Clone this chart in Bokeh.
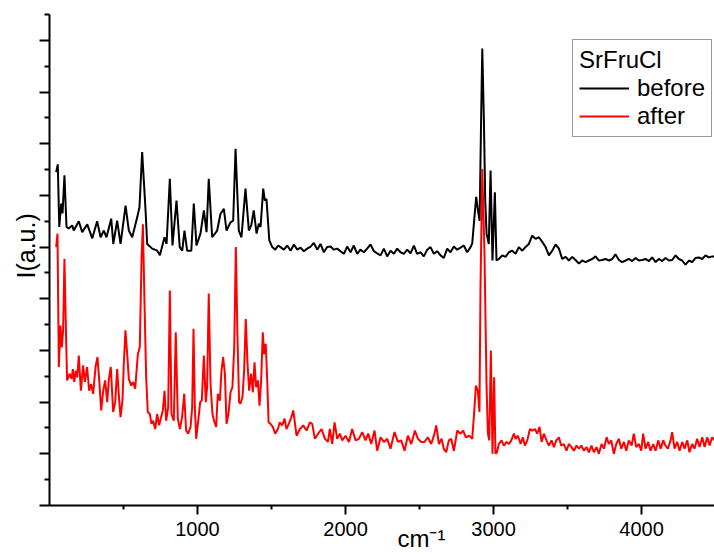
from bokeh.plotting import figure
from bokeh.models import (FixedTicker, CustomJSTickFormatter, Legend,
                          LegendItem, Range1d, Title)
from bokeh.embed import file_html
from bokeh.resources import INLINE

# ---------------- data ----------------
# "before" spectrum (black)
before_x_1 = [45, 56, 66, 79, 88, 101, 115, 130, 153, 164,
              198, 221, 255, 289, 322, 345, 367, 385, 417, 431,
              457, 480, 514, 536, 559, 593, 608, 626, 649, 660,
              694, 728, 746, 777, 791, 813, 831, 858, 880, 897,
              912, 930, 958, 975, 993, 1020, 1043, 1061, 1076, 1099,
              1133, 1155, 1178, 1196, 1223, 1241, 1257, 1279, 1297, 1324,
              1347, 1363, 1380, 1399, 1414, 1426, 1444, 1455, 1466, 1485,
              1505, 1525, 1545]
before_y_1 = [6.45, 6.60, 5.39, 5.84, 5.65, 6.39, 5.39, 5.36, 5.42, 5.32,
              5.50, 5.29, 5.44, 5.17, 5.50, 5.19, 5.32, 5.19, 5.55, 5.06,
              5.51, 5.06, 5.80, 5.32, 5.19, 5.58, 5.77, 6.84, 5.71, 5.06,
              4.97, 4.93, 4.84, 5.19, 5.06, 6.32, 5.03, 5.90, 5.00, 4.93,
              5.32, 4.93, 4.93, 5.84, 5.03, 5.26, 5.71, 5.29, 6.32, 5.19,
              5.32, 5.64, 5.74, 5.32, 5.48, 5.51, 6.90, 5.32, 5.19, 6.13,
              5.32, 5.42, 5.71, 5.26, 5.45, 5.39, 6.13, 5.90, 5.93, 5.13,
              5.00, 4.95, 5.03]
before_x_2 = [1561, 1584, 1606, 1629, 1651, 1674, 1696, 1719, 1741, 1764,
              1786, 1809, 1831, 1854, 1876, 1899, 1921, 1944, 1966, 1989,
              2011, 2034, 2056, 2079, 2101, 2124, 2146, 2169, 2192, 2214,
              2237, 2259, 2282, 2304, 2327, 2349, 2372, 2394, 2417, 2439,
              2462, 2484, 2507, 2529, 2552, 2574, 2597, 2619, 2642, 2664,
              2687, 2709, 2732, 2754, 2777, 2799, 2822, 2845]
before_y_2 = [5.00, 4.95, 5.03, 4.93, 5.05, 4.95, 4.99, 4.92, 4.97, 5.01,
              5.08, 4.95, 5.06, 4.90, 5.00, 5.01, 4.95, 4.97, 4.92, 4.87,
              5.01, 4.90, 5.03, 4.87, 4.95, 4.90, 4.97, 5.05, 4.92, 4.88,
              4.84, 4.97, 4.82, 4.93, 4.87, 4.97, 4.90, 4.87, 4.95, 4.88,
              5.03, 4.87, 4.90, 4.82, 4.95, 5.00, 4.87, 4.92, 4.84, 4.79,
              4.97, 4.90, 5.01, 4.95, 4.99, 5.03, 4.90, 5.00]
before_x_3 = [2856, 2872, 2883, 2895, 2906, 2916, 2924, 2935, 2944, 2953,
              2968, 2980, 2993, 3009, 3020]
before_y_3 = [5.07, 5.61, 5.97, 5.71, 5.51, 7.45, 8.84, 7.45, 5.90, 5.26,
              5.06, 6.48, 4.74, 6.06, 4.74]
before_x_4 = [3036, 3059, 3081, 3104, 3126, 3149, 3171, 3194, 3216, 3239,
              3261, 3284, 3307, 3329, 3352, 3374, 3397, 3419, 3442, 3464,
              3487, 3509, 3532, 3554, 3577, 3599, 3622, 3644, 3667, 3689,
              3712, 3734, 3757, 3779, 3802, 3824, 3847, 3869, 3892, 3914,
              3937, 3960, 3982, 4005, 4027, 4050, 4072, 4095, 4117, 4140,
              4162, 4185, 4207, 4230, 4252, 4275, 4297, 4320, 4342, 4365,
              4387, 4410, 4432, 4455, 4477, 4493]
before_y_4 = [4.77, 4.84, 4.81, 4.90, 4.93, 4.87, 5.00, 4.93, 5.00, 5.06,
              5.22, 5.16, 5.19, 5.10, 5.00, 4.84, 4.93, 5.05, 4.97, 4.77,
              4.81, 4.74, 4.81, 4.75, 4.68, 4.74, 4.71, 4.74, 4.77, 4.82,
              4.74, 4.75, 4.77, 4.74, 4.77, 4.86, 4.75, 4.71, 4.74, 4.77,
              4.73, 4.79, 4.74, 4.75, 4.77, 4.73, 4.80, 4.71, 4.77, 4.73,
              4.79, 4.74, 4.75, 4.84, 4.77, 4.74, 4.66, 4.74, 4.71, 4.79,
              4.80, 4.77, 4.84, 4.80, 4.82, 4.82]

# "after" spectrum (red)
after_x_1 = [45, 54, 63, 74, 83, 92, 101, 113, 119, 137,
             149, 158, 167, 178, 187, 198, 212, 227, 239, 254,
             268, 281, 295, 311, 324, 336, 349, 363, 376, 390,
             401, 414, 430, 444, 457, 471, 480, 493, 502, 513,
             525, 536, 552, 565, 579, 597, 610, 622, 631, 642,
             653, 664, 678, 689, 700, 714, 727, 741, 754, 766,
             777, 788, 802, 813, 824, 840, 853, 867, 881, 896,
             910, 923, 937, 953, 964, 973, 982, 991, 1005, 1018,
             1029, 1043, 1056, 1065, 1076, 1088, 1101, 1112, 1126, 1137,
             1151, 1162, 1173, 1185, 1196, 1209, 1223, 1236, 1248, 1259,
             1270, 1281, 1290, 1304, 1315, 1326, 1338, 1349, 1362, 1374,
             1385, 1396, 1408, 1419, 1430, 1441, 1450, 1461, 1471, 1480,
             1493, 1509, 1525, 1543, 1556, 1572, 1588, 1601, 1617, 1633]
after_y_1 = [5.00, 5.26, 2.68, 3.48, 3.06, 3.39, 4.77, 3.13, 2.42, 2.55,
             2.45, 2.64, 2.39, 2.61, 2.48, 2.90, 2.22, 2.71, 2.39, 2.68,
             2.22, 2.35, 2.16, 2.68, 2.87, 2.42, 1.84, 2.22, 2.42, 2.00,
             2.45, 2.68, 1.81, 2.00, 2.64, 2.03, 1.71, 2.03, 2.74, 3.39,
             2.93, 2.45, 2.32, 2.39, 2.26, 2.93, 3.06, 4.80, 5.44, 3.90,
             2.48, 1.81, 1.77, 1.58, 1.64, 1.48, 1.77, 1.55, 1.71, 1.84,
             2.22, 1.64, 1.90, 4.16, 1.77, 1.64, 3.35, 1.68, 1.48, 1.71,
             2.16, 1.45, 1.39, 1.52, 1.90, 3.42, 1.90, 1.29, 1.64, 2.00,
             2.03, 2.90, 2.00, 2.29, 4.10, 2.35, 1.77, 1.64, 1.52, 2.16,
             2.03, 2.61, 2.87, 2.55, 1.58, 1.77, 2.19, 2.29, 3.06, 5.00,
             3.26, 2.00, 1.97, 2.10, 2.61, 3.61, 2.74, 2.22, 2.55, 2.19,
             2.77, 2.29, 2.42, 1.93, 2.42, 3.35, 2.93, 3.13, 2.42, 1.61,
             1.58, 1.52, 1.39, 1.48, 1.61, 1.55, 1.68, 1.48, 1.58, 1.70]
after_x_2 = [1647, 1669, 1692, 1714, 1737, 1759, 1775, 1793, 1815, 1838,
             1861, 1881, 1894, 1910, 1926, 1944, 1962, 1978, 2000, 2023,
             2045, 2068, 2090, 2113, 2135, 2153, 2174, 2196, 2214, 2237,
             2259, 2282, 2304, 2331, 2354, 2376, 2399, 2421, 2444, 2469,
             2489, 2511, 2534, 2556, 2579, 2601, 2613, 2631, 2649, 2664,
             2680, 2698, 2714, 2732, 2755, 2777, 2795, 2813, 2836, 2856]
after_y_2 = [1.84, 1.35, 1.48, 1.55, 1.45, 1.61, 1.58, 1.29, 1.39, 1.48,
             1.29, 1.23, 1.48, 1.19, 1.61, 1.29, 1.39, 1.26, 1.35, 1.23,
             1.48, 1.26, 1.29, 1.42, 1.26, 1.39, 1.19, 1.45, 1.06, 1.32,
             1.23, 1.29, 1.10, 1.42, 1.23, 1.26, 1.06, 1.35, 1.19, 1.45,
             1.29, 1.23, 1.23, 1.32, 1.19, 1.39, 1.55, 1.19, 1.29, 1.10,
             1.03, 1.26, 1.29, 1.06, 1.45, 1.39, 1.45, 1.32, 1.35, 1.29]
after_x_3 = [2867, 2881, 2894, 2905, 2912, 2924, 2939, 2953, 2962, 2971,
             2982, 2993, 3004, 3013, 3023]
after_y_3 = [1.71, 2.32, 2.22, 1.81, 4.22, 6.51, 4.87, 2.29, 1.39, 1.26,
             3.00, 1.00, 2.48, 1.00, 1.03]
after_x_4 = [3036, 3054, 3070, 3088, 3104, 3120, 3138, 3149, 3165, 3183,
             3198, 3212, 3228, 3246, 3261, 3280, 3295, 3311, 3325, 3340,
             3358, 3374, 3392, 3408, 3424, 3442, 3457, 3475, 3493, 3509,
             3527, 3543, 3561, 3577, 3593, 3611, 3629, 3644, 3662, 3678,
             3696, 3712, 3730, 3746, 3764, 3779, 3795, 3813, 3829, 3847,
             3863, 3881, 3897, 3914, 3933, 3948, 3964, 3982, 3998, 4011,
             4027, 4045, 4061, 4079, 4095, 4113, 4129, 4147, 4162, 4178,
             4196, 4207, 4223, 4241, 4257, 4275, 4291, 4309, 4324, 4342,
             4358, 4376, 4392, 4410, 4426, 4444, 4460, 4477, 4493]
after_y_4 = [1.19, 1.26, 1.16, 1.23, 1.19, 1.26, 1.39, 1.29, 1.35, 1.19,
             1.32, 1.16, 1.26, 1.48, 1.45, 1.48, 1.39, 1.52, 1.23, 1.39,
             1.26, 1.16, 1.26, 1.13, 1.26, 1.32, 1.16, 1.19, 1.06, 1.19,
             1.13, 1.06, 1.16, 1.10, 1.16, 1.06, 1.13, 1.03, 1.16, 1.03,
             1.13, 1.00, 1.19, 1.10, 1.32, 1.19, 1.26, 1.00, 1.19, 1.29,
             1.10, 1.23, 1.06, 1.26, 1.16, 1.39, 1.13, 1.19, 1.06, 1.39,
             1.10, 1.23, 1.06, 1.19, 1.06, 1.26, 1.10, 1.26, 1.16, 1.10,
             1.26, 1.42, 1.10, 1.23, 1.06, 1.23, 1.10, 1.26, 1.03, 1.19,
             1.10, 1.29, 1.13, 1.32, 1.13, 1.32, 1.16, 1.32, 1.26]

x_major_ticks = [1000, 2000, 3000, 4000]
x_minor_ticks = [500, 1500, 2500, 3500, 4500]
y_major_ticks = [0, 1, 2, 3, 4, 5, 6, 7, 8, 9]
y_minor_ticks = [0.5, 1.5, 2.5, 3.5, 4.5, 5.5, 6.5, 7.5, 8.5, 9.5]

legend_title = "SrFruCl"
series_names = ["before", "after"]
x_label = "cm\u207b\u00b9"
y_label = "I(a.u.)"

before_x = before_x_1 + before_x_2 + before_x_3 + before_x_4
before_y = before_y_1 + before_y_2 + before_y_3 + before_y_4
after_x = after_x_1 + after_x_2 + after_x_3 + after_x_4
after_y = after_y_1 + after_y_2 + after_y_3 + after_y_4
assert len(before_x) == len(before_y), (len(before_x), len(before_y))
assert len(after_x) == len(after_y), (len(after_x), len(after_y))

FONT = "Liberation Sans"

p = figure(width=714, height=554, output_backend="svg", toolbar_location=None,
           x_range=Range1d(0, 4493), y_range=Range1d(0, 9.5),
           min_border_left=49, min_border_right=0, min_border_top=14,
           min_border_bottom=49)
p.outline_line_color = None
p.grid.visible = False
p.background_fill_color = "white"
p.border_fill_color = "white"

r_before = p.line(before_x, before_y, line_color="#000000", line_width=2)
r_after = p.line(after_x, after_y, line_color="#ff0000", line_width=2)

# x axis
xa = p.xaxis[0]
xa.ticker = FixedTicker(ticks=x_major_ticks, minor_ticks=x_minor_ticks)
xa.axis_line_width = 2
xa.major_tick_line_width = 2
xa.minor_tick_line_width = 2
xa.major_tick_in = 0
xa.major_tick_out = 9
xa.minor_tick_in = 0
xa.minor_tick_out = 4
xa.major_label_text_font = FONT
xa.major_label_text_font_size = "20px"
xa.major_label_text_color = "black"
xa.major_label_standoff = 7

# y axis (ticks only, no numbers)
ya = p.yaxis[0]
ya.ticker = FixedTicker(ticks=y_major_ticks, minor_ticks=y_minor_ticks)
ya.formatter = CustomJSTickFormatter(code="return ''")
ya.axis_line_width = 2
ya.major_tick_line_width = 2
ya.minor_tick_line_width = 2
ya.major_tick_in = 0
ya.major_tick_out = 10
ya.minor_tick_in = 0
ya.minor_tick_out = 5
ya.major_label_standoff = 5

# axis titles placed in the side panels
y_title = Title(text=y_label, align="left", offset=227, standoff=0,
                vertical_align="bottom", text_font=FONT,
                text_font_size="25px", text_font_style="normal",
                text_color="black")
p.add_layout(y_title, "left")
x_title = Title(text=x_label, align="left", offset=348, standoff=-28,
                vertical_align="top", text_font=FONT,
                text_font_size="24px", text_font_style="normal",
                text_color="black")
p.add_layout(x_title, "below")

legend = Legend(items=[LegendItem(label=series_names[0], renderers=[r_before]),
                       LegendItem(label=series_names[1], renderers=[r_after])],
                location=(523, 368), title=legend_title)
legend.title_text_font = FONT
legend.title_text_font_size = "24px"
legend.title_text_font_style = "normal"
legend.title_text_color = "black"
legend.title_standoff = 0
legend.label_text_font = FONT
legend.label_text_font_size = "24px"
legend.label_text_color = "black"
legend.label_height = 28
legend.glyph_height = 28
legend.glyph_width = 50
legend.label_standoff = 8
legend.spacing = 0
legend.padding = 6
legend.margin = 0
legend.border_line_color = "#333333"
legend.border_line_width = 1
legend.background_fill_color = "white"
legend.background_fill_alpha = 1.0
p.add_layout(legend)

open("out.html", "w").write(file_html(p, INLINE))
